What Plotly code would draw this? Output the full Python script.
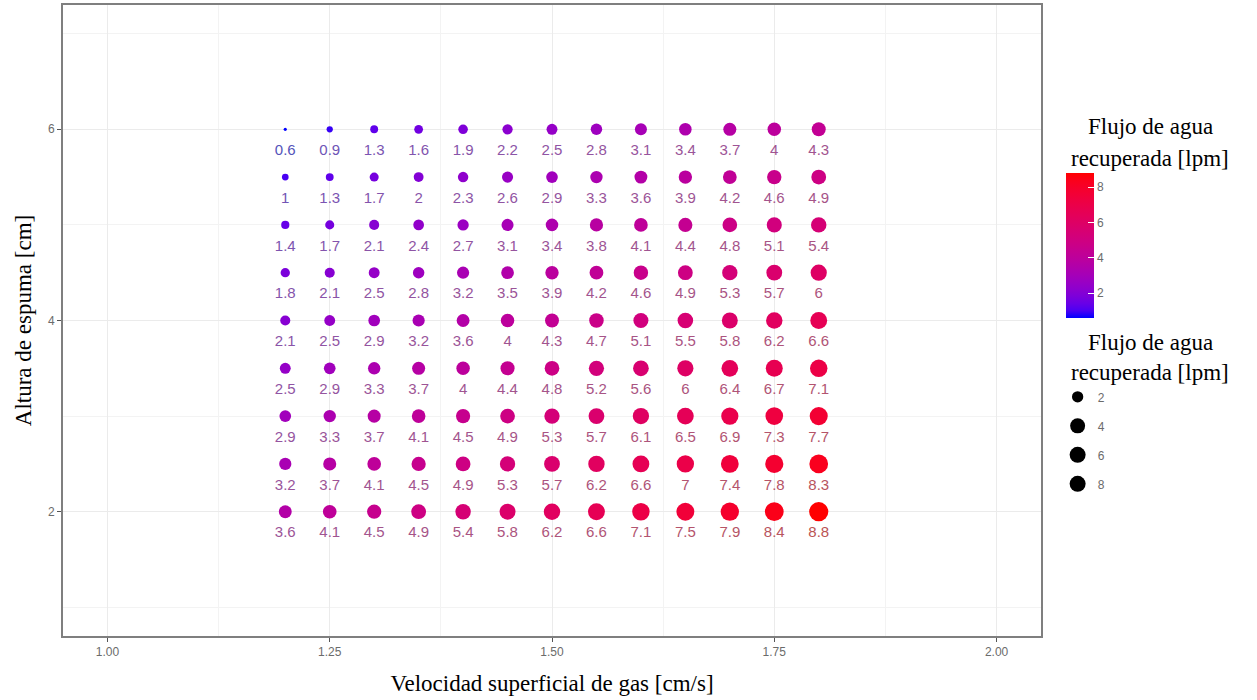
import numpy as np
import plotly.graph_objects as go

# ---------------- data ----------------
gas_velocity = [1.20, 1.25, 1.30, 1.35, 1.40, 1.45, 1.50, 1.55, 1.60, 1.65, 1.70, 1.75, 1.80]
foam_height = [6.0, 5.5, 5.0, 4.5, 4.0, 3.5, 3.0, 2.5, 2.0]
flow_h60 = [0.6, 0.9, 1.3, 1.6, 1.9, 2.2, 2.5, 2.8, 3.1, 3.4, 3.7, 4.0, 4.3]
flow_h55 = [1.0, 1.3, 1.7, 2.0, 2.3, 2.6, 2.9, 3.3, 3.6, 3.9, 4.2, 4.6, 4.9]
flow_h50 = [1.4, 1.7, 2.1, 2.4, 2.7, 3.1, 3.4, 3.8, 4.1, 4.4, 4.8, 5.1, 5.4]
flow_h45 = [1.8, 2.1, 2.5, 2.8, 3.2, 3.5, 3.9, 4.2, 4.6, 4.9, 5.3, 5.7, 6.0]
flow_h40 = [2.1, 2.5, 2.9, 3.2, 3.6, 4.0, 4.3, 4.7, 5.1, 5.5, 5.8, 6.2, 6.6]
flow_h35 = [2.5, 2.9, 3.3, 3.7, 4.0, 4.4, 4.8, 5.2, 5.6, 6.0, 6.4, 6.7, 7.1]
flow_h30 = [2.9, 3.3, 3.7, 4.1, 4.5, 4.9, 5.3, 5.7, 6.1, 6.5, 6.9, 7.3, 7.7]
flow_h25 = [3.2, 3.7, 4.1, 4.5, 4.9, 5.3, 5.7, 6.2, 6.6, 7.0, 7.4, 7.8, 8.3]
flow_h20 = [3.6, 4.1, 4.5, 4.9, 5.4, 5.8, 6.2, 6.6, 7.1, 7.5, 7.9, 8.4, 8.8]
flow_rows = [flow_h60, flow_h55, flow_h50, flow_h45, flow_h40, flow_h35, flow_h30, flow_h25, flow_h20]
size_legend_values = [2, 4, 6, 8]
x_ticks = [1.00, 1.25, 1.50, 1.75, 2.00]
y_ticks = [2, 4, 6]

legend_title_1 = "Flujo de agua"
legend_title_2 = "recuperada [lpm]"

# ---------------- helpers: Lab interpolation (like ggplot gradient) ----------------
def _lin(c):
    c = c / 255.0
    return c / 12.92 if c <= 0.04045 else ((c + 0.055) / 1.055) ** 2.4

def _delin(c):
    c = 12.92 * c if c <= 0.0031308 else 1.055 * c ** (1 / 2.4) - 0.055
    return min(255, max(0, round(c * 255)))

WN = (0.95047, 1.0, 1.08883)

def _f(t):
    d = 6 / 29
    return t ** (1 / 3) if t > d ** 3 else t / (3 * d * d) + 4 / 29

def _finv(t):
    d = 6 / 29
    return t ** 3 if t > d else 3 * d * d * (t - 4 / 29)

def rgb2lab(rgb):
    r, g, b = [_lin(v) for v in rgb]
    X = 0.4124564 * r + 0.3575761 * g + 0.1804375 * b
    Y = 0.2126729 * r + 0.7151522 * g + 0.0721750 * b
    Z = 0.0193339 * r + 0.1191920 * g + 0.9503041 * b
    fx, fy, fz = _f(X / WN[0]), _f(Y / WN[1]), _f(Z / WN[2])
    return (116 * fy - 16, 500 * (fx - fy), 200 * (fy - fz))

def lab2rgb(lab):
    L, a, b = lab
    fy = (L + 16) / 116
    fx = fy + a / 500
    fz = fy - b / 200
    X, Y, Z = WN[0] * _finv(fx), WN[1] * _finv(fy), WN[2] * _finv(fz)
    r = 3.2404542 * X - 1.5371385 * Y - 0.4985314 * Z
    g = -0.9692660 * X + 1.8760108 * Y + 0.0415560 * Z
    bb = 0.0556434 * X - 0.2040259 * Y + 1.0572252 * Z
    return tuple(_delin(max(0.0, v)) for v in (r, g, bb))

LOW = rgb2lab((0, 0, 255))
HIGH = rgb2lab((255, 0, 0))

def ramp(t):
    t = min(1.0, max(0.0, t))
    return lab2rgb(tuple(LOW[i] + (HIGH[i] - LOW[i]) * t for i in range(3)))

# ---------------- long format ----------------
xs, ys, vs = [], [], []
for h, row in zip(foam_height, flow_rows):
    for x, v in zip(gas_velocity, row):
        xs.append(x)
        ys.append(h)
        vs.append(v)
vmin, vmax = min(vs), max(vs)

colorscale = []
for i in range(21):
    t = i / 20
    r, g, b = ramp(t)
    colorscale.append([t, f"rgb({r},{g},{b})"])

K = 3.2
def size_px(v):
    return K * (1 + 5 * np.sqrt((v - vmin) / (vmax - vmin)))

sizes = [size_px(v) for v in vs]

def text_col(v):
    r, g, b = ramp((v - vmin) / (vmax - vmin))
    m = 0.4
    gr = 140
    return f"rgb({round(r*m+gr*(1-m))},{round(g*m+gr*(1-m))},{round(b*m+gr*(1-m))})"

text_colors = [text_col(v) for v in vs]
labels = [f"{v:g}" for v in vs]
nudge = 0.23
ys_text = [y - nudge for y in ys]

fig = go.Figure()

fig.add_trace(go.Scatter(
    x=xs, y=ys, mode="markers", showlegend=False, hoverinfo="skip",
    marker=dict(
        size=sizes, color=vs, colorscale=colorscale, cmin=vmin, cmax=vmax,
        opacity=1, line=dict(width=0),
        showscale=True,
        colorbar=dict(
            x=1.026, xanchor="left", xpad=0,
            y=0.619, yanchor="middle", len=145, lenmode="pixels",
            thickness=28, outlinewidth=0,
            tickvals=size_legend_values, ticks="inside", ticklen=6,
            tickcolor="white", tickwidth=1,
            tickfont=dict(family="Arial, Liberation Sans", size=12, color="#6b6b6b"),
            ypad=0,
        ),
    ),
))

fig.add_trace(go.Scatter(
    x=xs, y=ys_text, mode="text", text=labels, showlegend=False, hoverinfo="skip",
    textposition="middle center",
    textfont=dict(family="Arial, Liberation Sans", size=15, color=text_colors),
))

for i, v in enumerate(size_legend_values):
    fig.add_trace(go.Scatter(
        x=[None], y=[None], mode="markers", name=str(v),
        legendgroup=f"g{i}", showlegend=True,
        marker=dict(size=size_px(v) + 1.5, color="black", opacity=1),
    ))

serif = "Liberation Serif, Times New Roman, serif"
fig.update_layout(
    width=1257, height=700,
    margin=dict(l=63, r=216, t=3, b=64),
    paper_bgcolor="white", plot_bgcolor="white",
    showlegend=True,
    legend=dict(
        x=1.017, xanchor="left", y=0.402, yanchor="top",
        font=dict(family="Arial, Liberation Sans", size=12, color="#6b6b6b"),
        tracegroupgap=10, itemsizing="trace", bgcolor="rgba(0,0,0,0)",
    ),
    xaxis=dict(
        range=[0.95, 2.05], tickvals=x_ticks, ticktext=[f"{t:.2f}" for t in x_ticks],
        showgrid=True, gridcolor="#ebebeb", gridwidth=1,
        minor=dict(dtick=0.125, tick0=1.0, showgrid=True, gridcolor="#f3f3f3", gridwidth=1),
        ticks="outside", ticklen=4, tickcolor="#555555",
        tickfont=dict(family="Arial, Liberation Sans", size=12, color="#6b6b6b"),
        showline=True, linecolor="#7f7f7f", linewidth=2, mirror=True, zeroline=False,
        title=dict(text="Velocidad superficial de gas [cm/s]",
                   font=dict(family=serif, size=23, color="black"), standoff=16),
    ),
    yaxis=dict(
        range=[0.7, 7.3], tickvals=y_ticks,
        showgrid=True, gridcolor="#ebebeb", gridwidth=1,
        minor=dict(dtick=1, tick0=1, showgrid=True, gridcolor="#f3f3f3", gridwidth=1),
        ticks="outside", ticklen=4, tickcolor="#555555",
        tickfont=dict(family="Arial, Liberation Sans", size=12, color="#6b6b6b"),
        showline=True, linecolor="#7f7f7f", linewidth=2, mirror=True, zeroline=False,
        title=dict(text="Altura de espuma [cm]",
                   font=dict(family=serif, size=23, color="black"), standoff=10),
    ),
)

def px_to_paper_x(px):
    return (px - 63) / (1257 - 63 - 216)

def px_to_paper_y(py):
    return 1 - (py - 3) / (700 - 3 - 64)

for txt, cy in [(legend_title_1, 125), (legend_title_2, 157), (legend_title_1, 342), (legend_title_2, 372)]:
    fig.add_annotation(
        text=txt, xref="paper", yref="paper",
        x=px_to_paper_x(1150), y=px_to_paper_y(cy), xanchor="center", yanchor="middle",
        showarrow=False, font=dict(family=serif, size=23, color="black"),
    )

fig.write_html("out.html", config={"displayModeBar": False},
               post_script="document.body.style.margin='0';document.body.style.overflow='hidden';")
